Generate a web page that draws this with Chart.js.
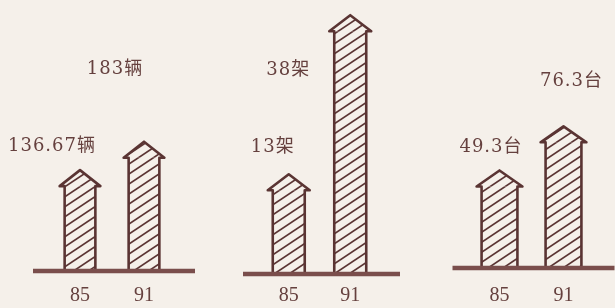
<!DOCTYPE html>
<html lang="zh-CN">
<head>
<meta charset="UTF-8">
<title>85年与91年对比</title>
<script src="https://cdn.jsdelivr.net/npm/chart.js"></script>
<style>
  body { margin: 0; background: #f5f0ea; }
  #wrap { position: relative; width: 615px; height: 308px; overflow: hidden; }
  #wrap canvas { position: absolute; top: 0; }
</style>
</head>
<body>
<div id="wrap">
  <canvas id="c1" width="205" height="325" style="left:0"></canvas>
  <canvas id="c2" width="205" height="325" style="left:205px"></canvas>
  <canvas id="c3" width="205" height="325" style="left:410px"></canvas>
</div>
<script>
// 数据
const years = ['85', '91'];
const cars = [136.67, 183];     // 辆
const planes = [13, 38];        // 架
const machines = [49.3, 76.3];  // 台
const units = ['辆', '架', '台'];

const ink = '#5a3433';
const textColor = '#65403e';
const groundColor = '#7a4e4c';

// 斜线填充
function makeHatch() {
    const w = 15, h = 10;
    const c = document.createElement('canvas');
    c.width = w; c.height = h;
    const g = c.getContext('2d');
    g.strokeStyle = ink;
    g.lineWidth = 1.7;
    for (let k = -1; k <= 1; k++) {
        g.beginPath();
        g.moveTo(-2, h + 2 * h / w + k * h);
        g.lineTo(w + 2, -2 * h / w + k * h);
        g.stroke();
    }
    return g.createPattern(c, 'repeat');
}

// 箭头形柱子 + 地面线 + 数值标注
const arrowPlugin = {
    id: 'arrows',
    afterDatasetsDraw(chart, args, opts) {
        const ctx = chart.ctx;
        const area = chart.chartArea;
        const meta = chart.getDatasetMeta(0);
        const values = chart.data.datasets[0].data;
        ctx.save();
        ctx.lineJoin = 'round';
        meta.data.forEach((bar, i) => {
            const p = bar.getProps(['x', 'y', 'base', 'width'], true);
            const l = p.x - p.width / 2, r = p.x + p.width / 2;
            const head = 16, ear = 5;
            ctx.beginPath();
            ctx.moveTo(l - ear, p.y);
            ctx.lineTo(p.x, p.y - head);
            ctx.lineTo(r + ear, p.y);
            ctx.closePath();
            ctx.fillStyle = opts.pattern;
            ctx.fill();

            ctx.beginPath();
            ctx.moveTo(l, p.base);
            ctx.lineTo(l, p.y);
            ctx.lineTo(l - ear, p.y);
            ctx.lineTo(p.x, p.y - head);
            ctx.lineTo(r + ear, p.y);
            ctx.lineTo(r, p.y);
            ctx.lineTo(r, p.base);
            ctx.strokeStyle = ink;
            ctx.lineWidth = 2.6;
            ctx.stroke();

            const off = opts.labelOffsets[i];
            ctx.font = '18px "DejaVu Serif", "Noto Sans CJK SC", serif';
            ctx.letterSpacing = '1px';
            ctx.fillStyle = textColor;
            ctx.textAlign = 'center';
            ctx.textBaseline = 'middle';
            ctx.fillText(values[i] + opts.unit, p.x + off[0], p.y + off[1]);
        });
        ctx.beginPath();
        ctx.moveTo(area.left - 15, area.bottom + 1);
        ctx.lineTo(area.right + 19, area.bottom + 1);
        ctx.strokeStyle = groundColor;
        ctx.lineWidth = 4.5;
        ctx.stroke();
        ctx.restore();
    }
};

const panels = [
    { id: 'c1', values: cars, unit: units[0], max: 440, padL: 48, padR: 29, padB: 3, bar: 0.48, tickPad: 14,
      offsets: [[-28, -40], [-29, -88]] },
    { id: 'c2', values: planes, unit: units[1], max: 42.9, padL: 53, padR: 29, padB: 6, bar: 0.52, tickPad: 11,
      offsets: [[-16, -43], [-62, 39]] },
    { id: 'c3', values: machines, unit: units[2], max: 163.4, padL: 57.5, padR: 19.5, padB: 0, bar: 0.56, tickPad: 17,
      offsets: [[-8.5, -39.5], [8, -61]] }
];

panels.forEach(p => {
    const el = document.getElementById(p.id);
    const pattern = makeHatch();
    new Chart(el, {
        type: 'bar',
        data: {
            labels: years,
            datasets: [{
                data: p.values,
                backgroundColor: pattern,
                borderWidth: 0,
                barPercentage: p.bar,
                categoryPercentage: 1
            }]
        },
        options: {
            responsive: false,
            animation: false,
            events: [],
            layout: { padding: { left: p.padL, right: p.padR, top: 0, bottom: p.padB } },
            plugins: {
                legend: { display: false },
                tooltip: { enabled: false },
                arrows: { pattern: pattern, unit: p.unit, labelOffsets: p.offsets }
            },
            scales: {
                x: {
                    grid: { display: false, drawTicks: false },
                    border: { display: false },
                    ticks: { color: textColor, padding: p.tickPad, font: { family: 'Liberation Serif', size: 20 } }
                },
                y: { display: false, min: 0, max: p.max }
            }
        },
        plugins: [arrowPlugin]
    });
});
</script>
</body>
</html>
